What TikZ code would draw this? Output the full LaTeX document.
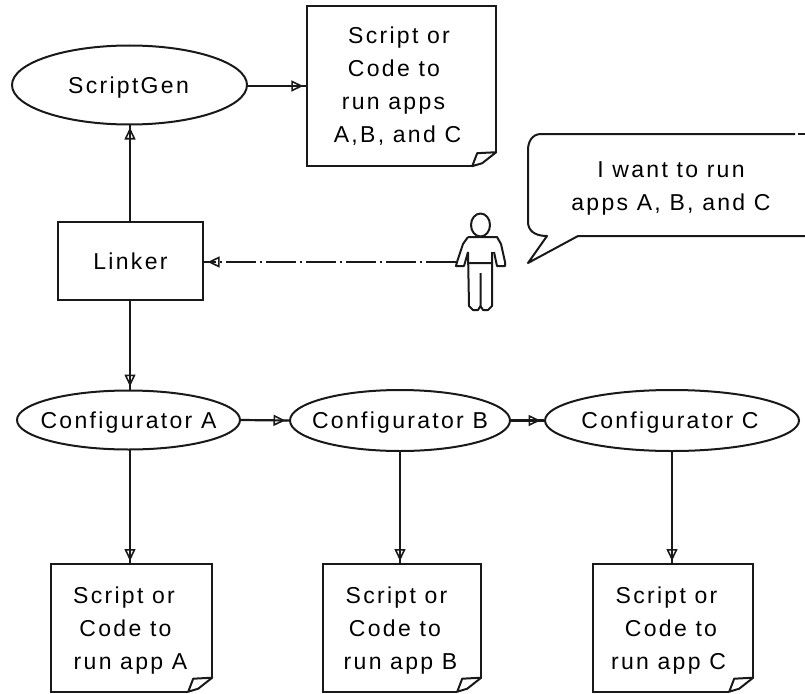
\documentclass[tikz,border=0pt]{standalone}
\usepackage{fontspec}
\setmainfont[LetterSpace=10]{Liberation Sans}
\usetikzlibrary{shapes.geometric,arrows.meta}
\tikzset{
  ln/.style={line width=2.2pt,draw=black!90},
  oval/.style={ellipse,line width=2pt,draw=black!90,inner sep=-30pt,text height=16.5pt,text depth=0pt,align=center,font=\fontsize{23}{26}\selectfont},
  procbox/.style={rectangle,ln,inner sep=0pt,align=center,font=\fontsize{23}{26}\selectfont},
  docbox/.style={rectangle,inner sep=0pt,align=center,font=\fontsize{23}{33}\selectfont},
  flow/.style={line width=2.2pt,draw=black!90,-{Triangle[open,length=12pt,width=11pt,line width=1.6pt,sep=0pt]Rectangle[length=3.5pt,width=2.2pt,sep=0pt]}},
  thinln/.style={line width=2pt,draw=black!90,line join=round}
}
\newcommand{\shl}[2]{\mbox{#2\kern#1pt}}
\newcommand{\tallstrut}{\rule{0pt}{21pt}}
\newcommand{\docoutline}[1]{%
  \draw[ln,line join=miter] ([yshift=14pt]#1.south east) -- (#1.north east) -- (#1.north west)
    -- (#1.south west) -- ([xshift=-24pt]#1.south east);
  \draw[line width=2pt,draw=black!90,fill=white,line join=round] ([yshift=14pt]#1.south east) -- ([xshift=-19pt,yshift=13pt]#1.south east)
    -- ([xshift=-24pt]#1.south east) -- ([xshift=-14pt,yshift=3pt]#1.south east) -- cycle;}
\begin{document}
\begin{tikzpicture}[x=1pt,y=-1pt]
\useasboundingbox (0,0) rectangle (805,693);
% nodes
\node[oval,minimum width=235pt,minimum height=79pt] (gen) at (129.5,85) {\shl{2}{ScriptGen}};
\node[docbox,minimum width=189pt,minimum height=160pt] (top) at (401.5,86) {\shl{5}{Script or}\\\shl{15}{Code to}\\\shl{16}{run apps}\\\shl{8}{A,B, and C}};
\node[procbox,minimum width=145pt,minimum height=78pt] (link) at (130.5,261) {Linker};
\node[oval,minimum width=223pt,minimum height=59pt] (ca) at (128.5,420) {Configurator A};
\node[oval,minimum width=220pt,minimum height=61pt] (cb) at (400,420.5) {Configurator B};
\node[oval,minimum width=254pt,minimum height=61pt] (cc) at (672,420.5) {\shl{4}{Configurator C}};
\node[docbox,minimum width=161pt,minimum height=127pt] (da) at (131.5,628) {\tallstrut\shl{15}{Script or}\\\shl{12}{Code to}\\\shl{2}{run app A}};
\node[docbox,minimum width=158pt,minimum height=127pt] (db) at (402,628) {\tallstrut\shl{11}{Script or}\\\shl{14}{Code to}\\\shl{3}{run app B}};
\node[docbox,minimum width=160pt,minimum height=127pt] (dc) at (673,628) {\tallstrut\shl{13}{Script or}\\\shl{4}{Code to}\\\shl{9}{run app C}};
\docoutline{top}\docoutline{da}\docoutline{db}\docoutline{dc}
% person
\coordinate (personhand) at (456,262);
\draw[thinln] (480.5,225) ellipse (9.5 and 11.5);
\draw[thinln] (468,237) -- (497,237) -- (501,244) -- (505,262) -- (505,266) -- (497,266) -- (494,252)
  (468,237) -- (463,244) -- (457,262) -- (456,266) -- (464,266) -- (468,252);
\draw[thinln] (468,252) -- (469,306) -- (473,310) -- (478,310) -- (480.5,306) -- (483,310) -- (488,310) -- (492,306) -- (492,252)
  (468,263) -- (492,263) (480.5,273) -- (480.5,306);
% bubble
\draw[thinln] (795,134) -- (541,134) .. controls (532,134) and (528,142) .. (528,150)
  -- (528,222) .. controls (528,230) and (534,236) .. (547,236) -- (528,263) -- (578,236) -- (806,236);
\draw[thinln] (798,134) -- (806,134);
\node[font=\fontsize{23}{33}\selectfont,align=center,inner sep=0pt] (say) at (671,188.5) {I want to run\\apps A, B, and C};
% connectors
\draw[flow] (gen.east |- 0,86) -- (top.west |- 0,86);
\draw[flow] (130,222) -- (130,124);
\draw[flow,dash pattern=on 30pt off 4pt on 2pt off 4pt] (personhand) -- (link.east |- personhand);
\draw[flow] (130,300) -- (130,390);
\draw[flow] (ca.east) -- (cb.west);
\draw[flow] (cb.east) -- (cc.west);
\draw[flow] (130,449) -- (130,564.5);
\draw[flow] (400,451) -- (400,564.5);
\draw[flow] (672,451) -- (672,564.5);
\end{tikzpicture}
\end{document}
